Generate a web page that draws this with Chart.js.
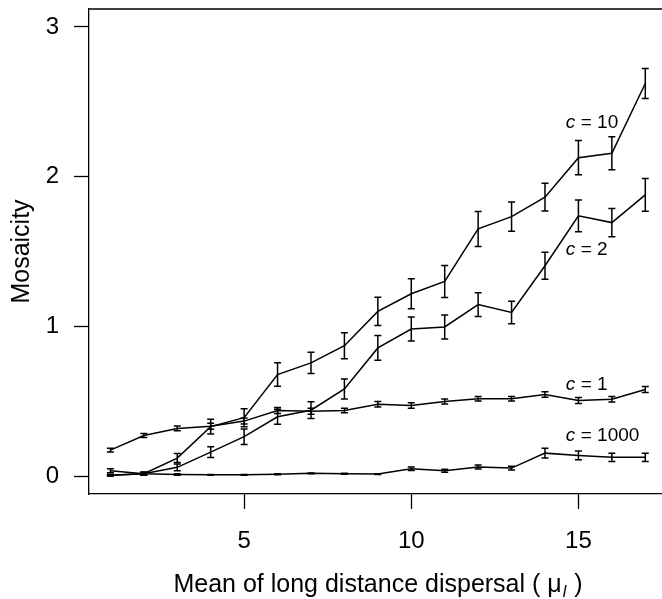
<!DOCTYPE html>
<html>
<head>
<meta charset="utf-8">
<script src="https://cdn.jsdelivr.net/npm/chart.js@4"></script>
<style>
  html, body { margin: 0; padding: 0; background: #fff; }
  #plot { display: block; }
</style>
</head>
<body>
<canvas id="plot" width="662" height="599"></canvas>
<script>
// mean long distance dispersal
const mu = [1, 2, 3, 4, 5, 6, 7, 8, 9, 10, 11, 12, 13, 14, 15, 16, 17]

// mosaicity (mean) and error (+/-) for each c
const c10 = [0.005, 0.015, 0.12, 0.33, 0.39, 0.678, 0.756, 0.871, 1.10, 1.218, 1.30, 1.651, 1.733, 1.863, 2.127, 2.156, 2.622]
const c10Err = [0.005, 0.01, 0.03, 0.05, 0.06, 0.078, 0.071, 0.087, 0.094, 0.10, 0.107, 0.117, 0.097, 0.093, 0.115, 0.11, 0.10]
const c2 = [0.005, 0.015, 0.058, 0.16, 0.263, 0.396, 0.44, 0.582, 0.856, 0.982, 0.996, 1.145, 1.093, 1.405, 1.738, 1.693, 1.878]
const c2Err = [0.005, 0.01, 0.022, 0.036, 0.052, 0.05, 0.056, 0.067, 0.083, 0.08, 0.08, 0.08, 0.075, 0.09, 0.106, 0.094, 0.109]
const c1 = [0.173, 0.271, 0.318, 0.333, 0.367, 0.438, 0.433, 0.438, 0.48, 0.471, 0.498, 0.516, 0.516, 0.545, 0.505, 0.513, 0.578]
const c1Err = [0.012, 0.013, 0.016, 0.02, 0.02, 0.02, 0.02, 0.015, 0.018, 0.018, 0.017, 0.015, 0.015, 0.018, 0.02, 0.018, 0.02]
const c1000 = [0.035, 0.015, 0.01, 0.008, 0.008, 0.012, 0.018, 0.015, 0.013, 0.049, 0.036, 0.06, 0.053, 0.153, 0.138, 0.125, 0.125]
const c1000Err = [0.013, 0.01, 0.005, 0.003, 0.003, 0.003, 0.003, 0.003, 0.003, 0.012, 0.01, 0.013, 0.012, 0.033, 0.03, 0.028, 0.028]

const xTicks = [5, 10, 15]
const yTicks = [0, 1, 2, 3]

// curve labels: text after "c =", placed in data coords
const curveLabels = ["10", "2", "1", "1000"]
const curveLabelX = [14.62, 14.62, 14.62, 14.62]
const curveLabelY = [2.36, 1.51, 0.61, 0.267]

const FONT = '"Liberation Sans", Arial, Helvetica, sans-serif'

const series = [
    { vals: c10, err: c10Err },
    { vals: c2, err: c2Err },
    { vals: c1, err: c1Err },
    { vals: c1000, err: c1000Err },
]

const errorBars = {
    id: "errorBars",
    afterDatasetsDraw(chart) {
        const ctx = chart.ctx
        const xs = chart.scales.x, ys = chart.scales.y
        ctx.save()
        ctx.strokeStyle = "#000"
        ctx.lineWidth = 1.5
        series.forEach(s => {
            s.vals.forEach((v, i) => {
                const px = xs.getPixelForValue(mu[i])
                const top = ys.getPixelForValue(v + s.err[i])
                const bot = ys.getPixelForValue(v - s.err[i])
                ctx.beginPath()
                ctx.moveTo(px, top); ctx.lineTo(px, bot)
                ctx.moveTo(px - 3.5, top); ctx.lineTo(px + 3.5, top)
                ctx.moveTo(px - 3.5, bot); ctx.lineTo(px + 3.5, bot)
                ctx.stroke()
            })
        })
        ctx.restore()
    }
}

const frameAndText = {
    id: "frameAndText",
    afterDraw(chart) {
        const ctx = chart.ctx
        const a = chart.chartArea
        const xs = chart.scales.x, ys = chart.scales.y
        ctx.save()
        // top edge of the box
        ctx.strokeStyle = "#000"
        ctx.lineWidth = 1.3
        ctx.beginPath()
        ctx.moveTo(a.left, a.top)
        ctx.lineTo(chart.width, a.top)
        ctx.stroke()

        // curve labels: italic c = value
        ctx.fillStyle = "#000"
        ctx.textBaseline = "middle"
        ctx.textAlign = "left"
        curveLabels.forEach((t, i) => {
            const px = xs.getPixelForValue(curveLabelX[i])
            const py = ys.getPixelForValue(curveLabelY[i])
            ctx.font = "italic 19px " + FONT
            ctx.fillText("c", px, py)
            ctx.font = "19px " + FONT
            ctx.fillText("= " + t, px + 15, py)
        })

        // x axis title with subscript l
        const big = "25px " + FONT
        const sub = "italic 16px " + FONT
        const p1 = "Mean of long distance dispersal ( \u03bc"
        const p2 = "l"
        const p3 = " )"
        ctx.font = big
        const w1 = ctx.measureText(p1).width
        const w3 = ctx.measureText(p3).width
        ctx.font = sub
        const w2 = ctx.measureText(p2).width
        const total = w1 + w2 + 2 + w3
        let x0 = 378 - total / 2
        const base = 592
        ctx.textBaseline = "alphabetic"
        ctx.font = big
        ctx.fillText(p1, x0, base)
        ctx.font = sub
        ctx.fillText(p2, x0 + w1 + 1, base + 5)
        ctx.font = big
        ctx.fillText(p3, x0 + w1 + w2 + 2, base)
        ctx.restore()
    }
}

new Chart(document.getElementById("plot"), {
    type: "line",
    data: {
        datasets: series.map(s => ({
            data: s.vals.map((v, i) => ({ x: mu[i], y: v })),
            borderColor: "#000",
            borderWidth: 1.5,
            pointRadius: 0,
            fill: false,
            tension: 0
        }))
    },
    options: {
        responsive: false,
        devicePixelRatio: 1,
        animation: false,
        layout: { padding: { top: 9, right: 0, left: 0, bottom: 0 } },
        plugins: {
            legend: { display: false },
            tooltip: { enabled: false }
        },
        scales: {
            x: {
                type: "linear",
                min: 0.36,
                max: 17.5,
                afterBuildTicks: (scale) => { scale.ticks = xTicks.map(v => ({ value: v })) },
                afterFit: (scale) => {
                    scale.height = 105
                    scale.paddingLeft = 0
                    scale.paddingRight = 0
                },
                grid: { drawOnChartArea: false, drawTicks: true, tickLength: 15, tickColor: "#000", tickWidth: 1.3 },
                border: { display: true, color: "#000", width: 1.3 },
                ticks: { color: "#000", font: { family: FONT, size: 24 }, padding: 18, maxRotation: 0 }
            },
            y: {
                type: "linear",
                min: -0.12,
                max: 3.12,
                afterBuildTicks: (scale) => { scale.ticks = yTicks.map(v => ({ value: v })) },
                afterFit: (scale) => {
                    scale.width = 89
                    scale.paddingTop = 0
                    scale.paddingBottom = 0
                },
                grid: { drawOnChartArea: false, drawTicks: true, tickLength: 15, tickColor: "#000", tickWidth: 1.3 },
                border: { display: true, color: "#000", width: 1.3 },
                ticks: { color: "#000", font: { family: FONT, size: 24 }, padding: 15 },
                title: {
                    display: true,
                    text: "Mosaicity",
                    color: "#000",
                    font: { family: FONT, size: 25 },
                    padding: { top: 7, bottom: 0 }
                }
            }
        }
    },
    plugins: [errorBars, frameAndText]
})
</script>
</body>
</html>
